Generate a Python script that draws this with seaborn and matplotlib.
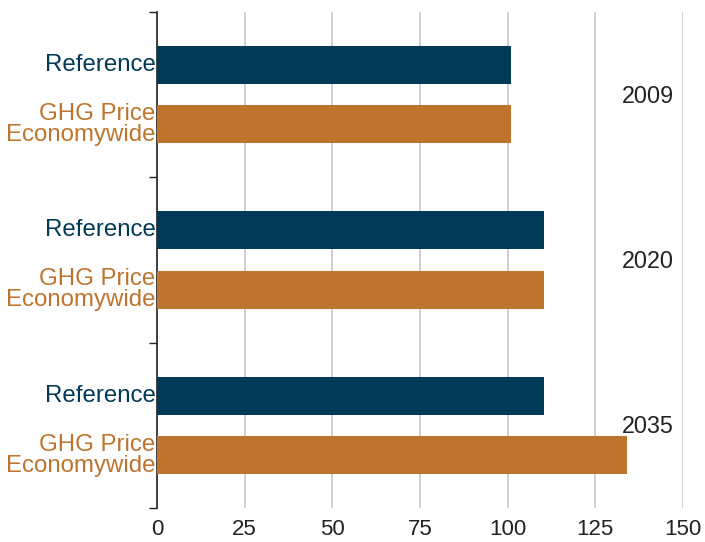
import matplotlib
matplotlib.use("Agg")
import matplotlib.pyplot as plt
import seaborn as sns
import pandas as pd
import numpy as np

years = ["2009", "2020", "2035"]
scenarios = ["Reference", "GHG Price\nEconomywide"]
reference_vals = [101, 110.5, 110.5]
ghg_vals = [101, 110.5, 134]
colors = ["#003A56", "#BE742C"]
x_ticks = [0, 25, 50, 75, 100, 125, 150]

df = pd.DataFrame({
    "year": years * 2,
    "scenario": [scenarios[0]] * 3 + [scenarios[1]] * 3,
    "value": reference_vals + ghg_vals,
})

sns.set_theme(style="white")
plt.rcParams["font.family"] = ["Liberation Sans", "DejaVu Sans"]

fig = plt.figure(figsize=(7.05, 5.42), dpi=100)
ax = fig.add_axes([0.2227, 0.0627, 0.9688 - 0.2227, 0.9779 - 0.0627])

sns.barplot(data=df, x="value", y="year", hue="scenario", order=years,
            hue_order=scenarios, palette=colors, orient="h",
            width=0.72, gap=0.36, saturation=1, legend=False, ax=ax,
            errorbar=None, linewidth=0, zorder=3)

ax.set_xlim(0, 150)
ax.set_ylim(2.5, -0.5)
ax.set_xticks(x_ticks)
ax.set_xticklabels([str(t) for t in x_ticks], fontsize=16, color="#222222")
ax.tick_params(axis="x", length=0, pad=8)
ax.xaxis.grid(True, color="#C8C8C8", linewidth=1.2, zorder=0)
ax.set_axisbelow(True)
ax.set_xlabel("")
ax.set_ylabel("")

# y ticks at group boundaries
ax.set_yticks(np.arange(-0.5, len(years), 1.0))
ax.set_yticklabels([])
ax.tick_params(axis="y", length=6, width=1, color="#222222", direction="out", left=True)

for s in ["top", "right", "bottom"]:
    ax.spines[s].set_visible(False)
ax.spines["left"].set_color("#222222")
ax.spines["left"].set_linewidth(1.2)

# category labels at bar centers
trans = matplotlib.transforms.blended_transform_factory(ax.transAxes, ax.transData)
patches = sorted(ax.patches, key=lambda p: p.get_y())
for p in patches:
    yc = p.get_y() + p.get_height() / 2
    col = p.get_facecolor()
    idx = 0 if np.allclose(col[:3], matplotlib.colors.to_rgb(colors[0]), atol=0.02) else 1
    ax.text(-0.003, yc, scenarios[idx], transform=trans, ha="right", va="center",
            fontsize=17.3, color=colors[idx], linespacing=0.95)

for i, y in enumerate(years):
    ax.text(147.5, i + 0.01, y, ha="right", va="center", fontsize=16.8, color="#222222")

fig.savefig("out.png", dpi=100)
